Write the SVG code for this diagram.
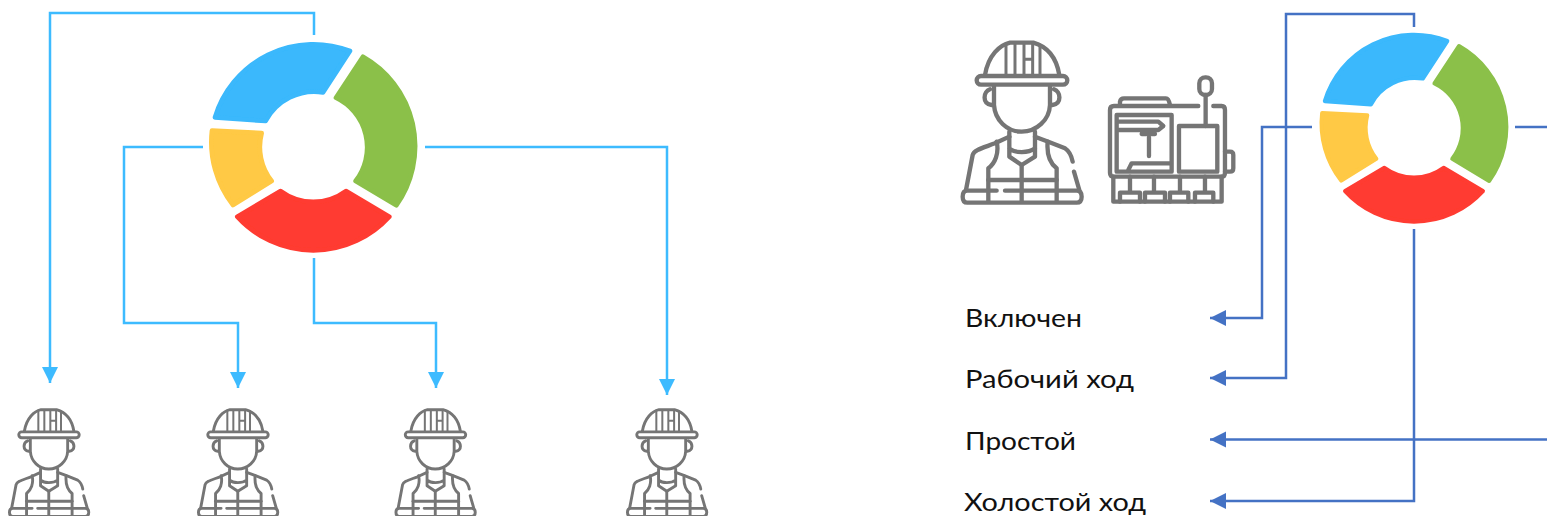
<svg xmlns="http://www.w3.org/2000/svg" width="1547" height="516" viewBox="0 0 1547 516">
<style>
.c1{fill:none;stroke:#3DBBFF;stroke-width:2.500}
.c2{fill:none;stroke:#4472C4;stroke-width:2.500}
.ic{fill:none;stroke:#757575;stroke-width:13;stroke-linecap:round;stroke-linejoin:round}
.thin{stroke-width:9}
.seg{stroke-width:14;stroke-linejoin:round}
.lbl{font-family:"Lato","Open Sans",sans-serif;font-size:25px;fill:#111}
</style>
<defs>
<marker id="a1" markerUnits="userSpaceOnUse" markerWidth="18" markerHeight="18" refX="16" refY="8" orient="auto"><path d="M0,0L16,8L0,16Z" fill="#3DBBFF"/></marker>
<marker id="a2" markerUnits="userSpaceOnUse" markerWidth="18" markerHeight="18" refX="16" refY="8" orient="auto"><path d="M0,0L16,8L0,16Z" fill="#4472C4"/></marker>
<filter id="soft" x="-5%" y="-5%" width="110%" height="110%"><feGaussianBlur stdDeviation="0.6"/></filter>
<g id="donut">
<path class="seg" fill="#3AB8FC" stroke="#3AB8FC" d="M-295,-88A308,308 0 0 1 110,-287L29,-163A165,165 0 0 0 -143,-77Z"/>
<path class="seg" fill="#8BC04A" stroke="#8BC04A" d="M149,-270A308,308 0 0 1 249,176L127,103A165,165 0 0 0 68,-147Z"/>
<path class="seg" fill="#FF3B30" stroke="#FF3B30" d="M228,210A308,308 0 0 1 -228,210L-98,133A165,165 0 0 0 98,133Z"/>
<path class="seg" fill="#FFC944" stroke="#FFC944" d="M-241,175A308,308 0 0 1 -304,-48L-155,-41A165,165 0 0 0 -125,103Z"/>
</g>
<g id="worker" class="ic">
<path d="M105,165C115,105 150,75 180,68H250C285,78 318,105 328,165"/>
<path class="thin" d="M168,72V165M195,70V165M222,72V165M248,72V165M222,118H248M270,75V165"/>
<rect x="80" y="168" width="272" height="26" rx="13"/>
<path d="M132,200V255C135,300 170,335 215,335C260,335 298,300 300,255V200"/>
<path d="M120,208C100,215 95,250 125,255M312,208C332,215 337,250 307,255"/>
<path d="M178,335V410L215,435L255,410V335M178,385C195,400 235,400 255,385"/>
<path d="M215,435V545"/>
<path d="M48,510L68,405C72,390 95,385 135,370L178,350M255,350L295,365L345,385C360,395 365,410 368,425M372,455L388,510"/>
<path d="M140,365C148,400 135,430 115,445V545M293,365C290,400 300,430 320,445V545"/>
<path d="M115,480H320"/>
<path d="M140,512H52Q38,512 38,530Q38,548 52,548H380Q395,548 395,530Q395,512 380,512H165"/>
</g>
<g id="machine" class="ic">
<path d="M745,258H492Q480,258 480,270V458Q480,470 492,470H815Q825,470 825,458V270Q825,258 815,258H790"/>
<path d="M510,255V245Q512,235 522,235H648Q656,235 660,255"/>
<rect x="748" y="172" width="38" height="53" rx="18"/>
<path d="M767,225V318"/>
<rect x="500" y="285" width="165" height="170"/>
<path d="M505,305H625L640,318L625,330H505M575,342H615M597,352V408M535,450L545,430H660"/>
<rect x="687" y="318" width="115" height="137"/>
<path d="M825,395H840Q850,395 850,405V445Q850,455 840,455H825"/>
<path d="M490,470V545H815V470"/>
<path d="M540,470V515M612,470V515M690,470V515M765,470V515M510,545V518H570V545M585,545V518H645V545M660,545V518H715V545M735,545V518H790V545"/>
</g>
</defs>
<rect width="1547" height="516" fill="#fff"/>
<g id="connectors">
<path class="c1" marker-end="url(#a1)" d="M314,35V13H50V383"/>
<path class="c1" marker-end="url(#a1)" d="M203,147H124V323H238V388"/>
<path class="c1" marker-end="url(#a1)" d="M314,258V323H436V388"/>
<path class="c1" marker-end="url(#a1)" d="M425,147H667V395"/>
<path class="c2" marker-end="url(#a2)" d="M1414,27V14H1286V378H1210"/>
<path class="c2" marker-end="url(#a2)" d="M1312,127H1262V318H1210"/>
<path class="c2" d="M1515,127H1547"/>
<path class="c2" marker-end="url(#a2)" d="M1547,439.500H1210"/>
<path class="c2" marker-end="url(#a2)" d="M1414,229V501H1210"/>
</g>
<g id="donut-left" filter="url(#soft)"><use href="#donut" transform="translate(313.300 146.700) scale(.3333)"/></g>
<g id="donut-right" filter="url(#soft)"><use href="#donut" transform="translate(1414 127.700) scale(.302)"/></g>
<g id="worker-main" filter="url(#soft)"><use href="#worker" transform="translate(950 20) scale(.3333)"/></g>
<g id="machine-main" filter="url(#soft)"><use href="#machine" transform="translate(950 20) scale(.3333)"/></g>
<g id="worker-1" filter="url(#soft)"><use href="#worker" transform="translate(1 394.600) scale(.2222)"/></g>
<g id="worker-2" filter="url(#soft)"><use href="#worker" transform="translate(190 394.600) scale(.2222)"/></g>
<g id="worker-3" filter="url(#soft)"><use href="#worker" transform="translate(387.500 394.600) scale(.2222)"/></g>
<g id="worker-4" filter="url(#soft)"><use href="#worker" transform="translate(619 394.600) scale(.2222)"/></g>
<g id="label-1"><text class="lbl" x="965" y="327" textLength="117" lengthAdjust="spacingAndGlyphs">Включен</text></g>
<g id="label-2"><text class="lbl" x="965" y="388" textLength="169" lengthAdjust="spacingAndGlyphs">Рабочий ход</text></g>
<g id="label-3"><text class="lbl" x="965" y="450" textLength="111" lengthAdjust="spacingAndGlyphs">Простой</text></g>
<g id="label-4"><text class="lbl" x="964" y="511" textLength="182" lengthAdjust="spacingAndGlyphs">Холостой ход</text></g>
</svg>
